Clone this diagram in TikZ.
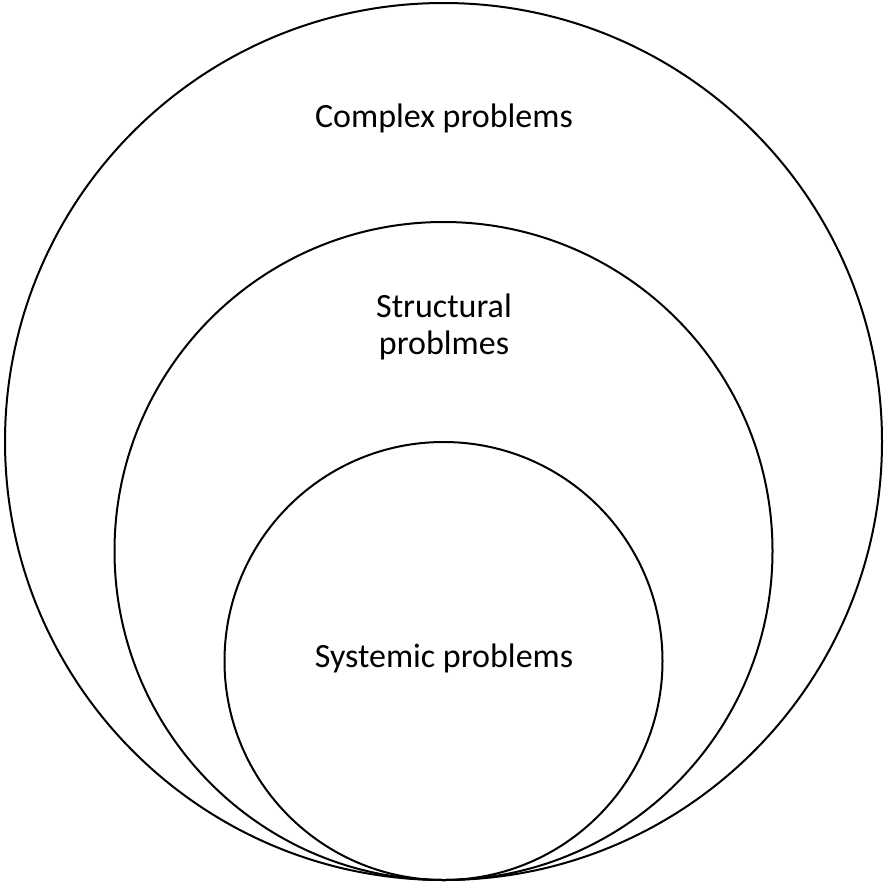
\documentclass[tikz,border=0pt]{standalone}
\usepackage{fontspec}
\setmainfont{Carlito}
\begin{document}
\begin{tikzpicture}[x=1pt,y=-1pt,
  ring/.style={draw=black,line width=2pt},
  lbl/.style={font=\fontsize{34}{37}\selectfont,align=center,inner sep=0pt,anchor=base}]
\useasboundingbox (0,0) rectangle (886,884);
% three nested circles, all touching at the bottom point
\node[ring,circle,minimum size=877pt,inner sep=0pt] (outer) at (443.5,441.5) {};
\node[ring,circle,minimum size=658pt,inner sep=0pt] (middle) at (443.5,551) {};
\node[ring,circle,minimum size=438pt,inner sep=0pt] (inner) at (443.5,661) {};
\node[lbl] (complex) at (444,127) {Complex problems};
% the base anchor of a two-line label sits on its last line
\node[lbl] (structural) at (444,354) {Structural\\problmes};
\node[lbl] (systemic) at (444,667) {Systemic problems};
\end{tikzpicture}
\end{document}
